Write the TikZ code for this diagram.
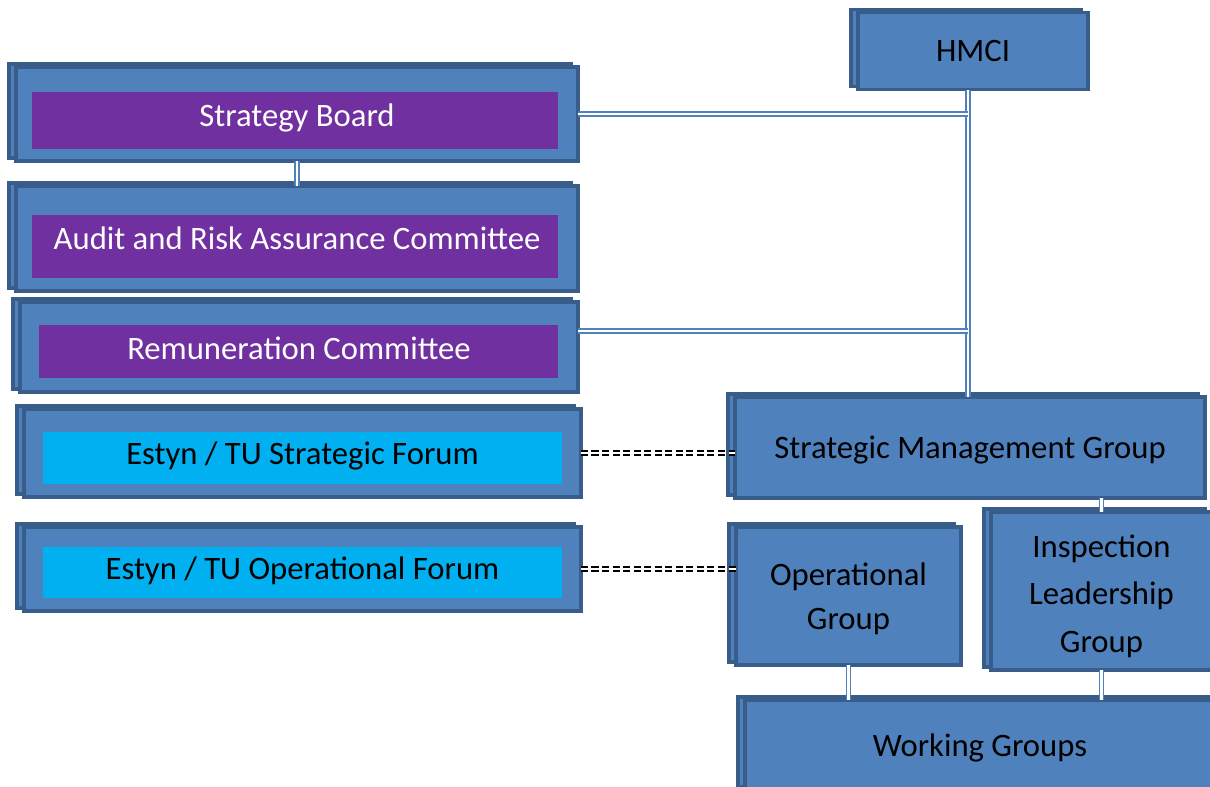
\documentclass[tikz,border=0pt]{standalone}
\usepackage{fontspec}
\setmainfont{Carlito}
\usetikzlibrary{shadows}
\definecolor{boxblue}{HTML}{4F81BD}
\definecolor{boxline}{HTML}{385D8A}
\definecolor{boardpurple}{HTML}{7030A0}
\definecolor{forumcyan}{HTML}{00B0F0}
\tikzset{
  unit/.style={rectangle, draw=boxline, fill=boxblue, line width=2pt, inner sep=0pt, outer sep=0pt,
    general shadow={shadow xshift=-4pt, shadow yshift=1.7pt, draw=boxline, fill=boxblue, line width=2pt}},
  inbox/.style={rectangle, inner sep=0pt},
  board/.style={inbox, fill=boardpurple},
  forum/.style={inbox, fill=forumcyan},
  lbl/.style={font=\fontsize{18.6}{22}\selectfont, align=center},
  link/.style={draw=boxblue, double=white, double distance=1.3pt, line width=1pt},
  tulink/.style={draw=black, double=white, double distance=0.8pt, line width=1.1pt, dash pattern=on 4pt off 2pt}
}
\begin{document}
\begin{tikzpicture}[x=0.02cm, y=-0.02cm]
\useasboundingbox (0,0) rectangle (1210,787);
% left column
\node[unit, minimum width=11.24cm, minimum height=1.88cm] (sb) at (297,114) {};
\node[board, minimum width=10.52cm, minimum height=1.14cm] (sbIn) at (295,120.5) {};
\node[lbl, text=white] (sbT) at ([yshift=-2pt]sb) {Strategy Board};
\node[unit, minimum width=11.24cm, minimum height=2.1cm] (aud) at (297,238.5) {};
\node[board, minimum width=10.52cm, minimum height=1.26cm] (audIn) at (295,246.5) {};
\node[lbl, text=white] (audT) at (aud) {Audit and Risk Assurance Committee};
\node[unit, minimum width=11.16cm, minimum height=1.8cm] (rem) at (299,347) {};
\node[board, minimum width=10.38cm, minimum height=1.06cm] (remIn) at (298.5,351.5) {};
\node[lbl, text=white] (remT) at ([yshift=-0.5pt]rem) {Remuneration Committee};
\node[unit, minimum width=11.14cm, minimum height=1.76cm] (sf) at (302.5,453) {};
\node[forum, minimum width=10.38cm, minimum height=1.04cm] (sfIn) at (302.5,458) {};
\node[lbl] (sfT) at ([yshift=-1.5pt]sf) {Estyn / TU Strategic Forum};
\node[unit, minimum width=11.14cm, minimum height=1.68cm] (of) at (302.5,569) {};
\node[forum, minimum width=10.38cm, minimum height=1.02cm] (ofIn) at (302.5,572.5) {};
\node[lbl] (ofT) at ([yshift=-1pt]of) {Estyn / TU Operational Forum};
% right column
\node[unit, minimum width=4.6cm, minimum height=1.54cm] (hmci) at (973,51) {};
\node[lbl] (hmciT) at (hmci) {HMCI};
\node[unit, minimum width=9.4cm, minimum height=2.02cm] (smg) at (970,447.5) {};
\node[lbl] (smgT) at ([yshift=-1.5pt]smg) {Strategic Management Group};
\node[unit, minimum width=4.5cm, minimum height=2.76cm] (og) at (848.5,596) {};
\node[lbl, font=\fontsize{18.6}{25}\selectfont] (ogT) at ([yshift=-1.5pt]og) {Operational\\Group};
\node[unit, minimum width=4.42cm, minimum height=3.16cm] (ilg) at (1101.5,591) {};
\node[lbl, font=\fontsize{18.6}{27}\selectfont] (ilgT) at ([yshift=-3pt]ilg) {Inspection\\Leadership\\Group};
\node[unit, minimum width=9.4cm, minimum height=1.8cm] (wg) at (980,745) {};
\node[lbl] (wgT) at ([yshift=-1.5pt]wg) {Working Groups};
% connectors
\coordinate (tap) at (968,90);
\draw[link] (tap) -- (tap |- smg.north);
\draw[link] (sb.east) -- (sb.east -| tap);
\draw[link] ([yshift=0.32cm]rem.east) -- ([yshift=0.32cm]rem.east -| tap);
\draw[link] (sb.south) -- (aud.north);
\draw[link] (smg.south -| ilg.north) -- (ilg.north);
\draw[link] (og.south) -- (og.south |- wg.north);
\draw[link] (ilg.south) -- (ilg.south |- wg.north);
\draw[tulink] (sf.east) -- (sf.east -| smg.west);
\draw[tulink] (of.east) -- (of.east -| og.west);
\end{tikzpicture}
\end{document}
